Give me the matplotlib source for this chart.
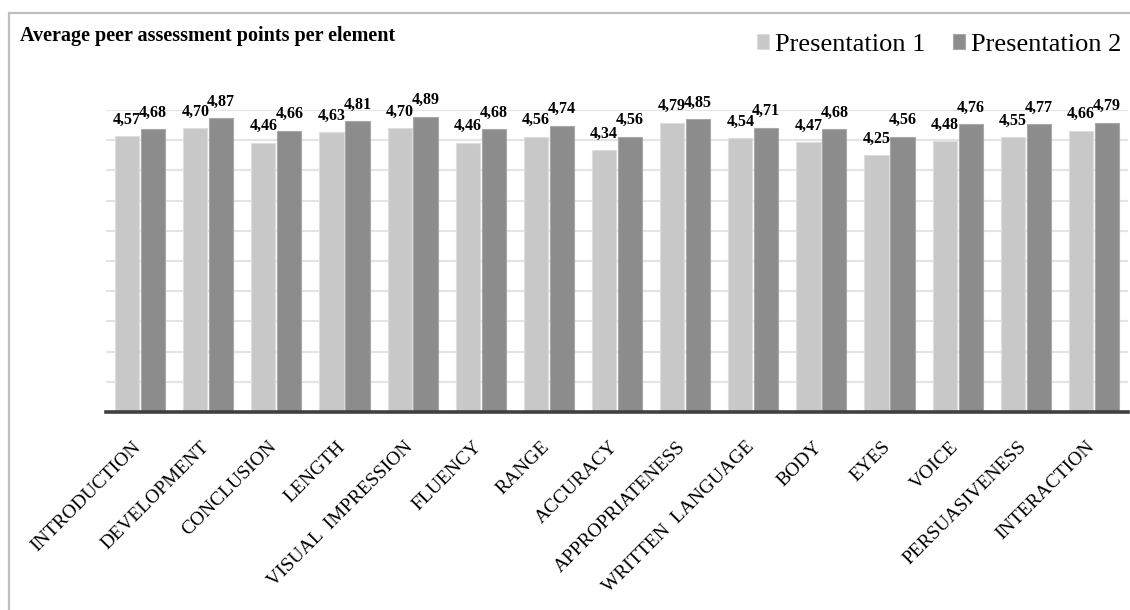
import numpy as np
import matplotlib.pyplot as plt
import matplotlib.transforms as mtransforms
from matplotlib.patches import Rectangle

plt.rcParams['font.family'] = ['Liberation Serif', 'DejaVu Serif']

categories = ['INTRODUCTION', 'DEVELOPMENT', 'CONCLUSION', 'LENGTH',
              'VISUAL  IMPRESSION', 'FLUENCY', 'RANGE', 'ACCURACY',
              'APPROPRIATENESS', 'WRITTEN  LANGUAGE', 'BODY', 'EYES',
              'VOICE', 'PERSUASIVENESS', 'INTERACTION']
presentation1 = [4.57, 4.70, 4.46, 4.63, 4.70, 4.46, 4.56, 4.34,
                 4.79, 4.54, 4.47, 4.25, 4.48, 4.55, 4.66]
presentation2 = [4.68, 4.87, 4.66, 4.81, 4.89, 4.68, 4.74, 4.56,
                 4.85, 4.71, 4.68, 4.56, 4.76, 4.77, 4.79]
series_names = ['Presentation 1', 'Presentation 2']

light = '#c8c8c8'
dark = '#8c8c8c'

W, H = 1130, 610
fig = plt.figure(figsize=(W / 100, H / 100), dpi=100)
ax = fig.add_axes([106 / W, 1 - 412 / H, (1128 - 106) / W, (412 - 110) / H])

# outer chart frame
fig.patches.append(Rectangle((9 / W, -0.05), 1.2, 1 - 13 / H + 0.05,
                             transform=fig.transFigure, fill=False,
                             edgecolor='#bfbfbf', linewidth=1.6, zorder=0))

x = np.arange(len(categories))
bw = 0.355
off = 0.19
b1 = ax.bar(x - off, presentation1, bw, color=light, edgecolor='#dedede',
            linewidth=0.8, label=series_names[0], zorder=2)
b2 = ax.bar(x + off, presentation2, bw, color=dark, edgecolor='#a8a8a8',
            linewidth=0.8, label=series_names[1], zorder=2)

for bars, vals in ((b1, presentation1), (b2, presentation2)):
    for rect, v in zip(bars, vals):
        ax.annotate(f'{v:.2f}'.replace('.', ','),
                    (rect.get_x() + rect.get_width() / 2, v),
                    xytext=(0, 6), textcoords='offset points',
                    ha='center', va='bottom', fontsize=11.5, fontweight='bold')

ax.set_xlim(-0.5, len(categories) - 0.5)
ax.set_ylim(0, 5)
ax.set_yticks(np.arange(0.5, 5.01, 0.5))
ax.yaxis.grid(True, color='#e4e4e4', linewidth=1.5, zorder=0)
ax.set_axisbelow(True)
ax.tick_params(axis='y', left=False, labelleft=False)
ax.tick_params(axis='x', length=0, pad=19)
ax.set_xticks(x)
ax.set_xticklabels(categories, rotation=45, ha='right', va='top',
                   rotation_mode='anchor', fontsize=14)
shift = mtransforms.ScaledTranslation(-0.08, 0, fig.dpi_scale_trans)
for lbl in ax.get_xticklabels():
    lbl.set_transform(lbl.get_transform() + shift)
for s in ax.spines.values():
    s.set_visible(False)
ax.axhline(0, color='#404040', linewidth=2.6, zorder=3, clip_on=False)

fig.text(20 / W, 1 - 41 / H, 'Average peer assessment points per element',
         fontsize=14.5, fontweight='bold', va='baseline', ha='left')

fig.legend(handles=[b1, b2], labels=series_names, loc='center right',
           bbox_to_anchor=(1121 / W, 1 - 45 / H), ncol=2, frameon=False,
           fontsize=19, handlelength=0.46, handleheight=0.46,
           handletextpad=0.22, columnspacing=1.05, borderpad=0, borderaxespad=0)

fig.savefig('out.png', dpi=100)
